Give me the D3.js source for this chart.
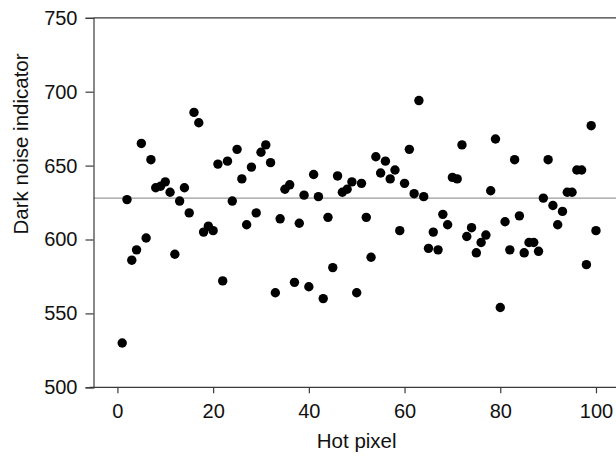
<!DOCTYPE html>
<html>
<head>
<meta charset="utf-8">
<script src="https://cdn.jsdelivr.net/npm/d3@7"></script>
<style>
  html, body { margin: 0; padding: 0; background: #fff; }
  svg { display: block; }
  text { font-family: "Liberation Sans", Arial, sans-serif; fill: #111; }
</style>
</head>
<body>
<script>
// ---- data ----
const hotPixel = d3.range(1, 101);
const darkNoise = [
  530, 627, 586, 593, 665, 601, 654, 635, 636, 639,
  632, 590, 626, 635, 618, 686, 679, 605, 609, 606,
  651, 572, 653, 626, 661, 641, 610, 649, 618, 659,
  664, 652, 564, 614, 634, 637, 571, 611, 630, 568,
  644, 629, 560, 615, 581, 643, 632, 634, 639, 564,
  638, 615, 588, 656, 645, 653, 641, 647, 606, 638,
  661, 631, 694, 629, 594, 605, 593, 617, 610, 642,
  641, 664, 602, 608, 591, 598, 603, 633, 668, 554,
  612, 593, 654, 616, 591, 598, 598, 592, 628, 654,
  623, 610, 619, 632, 632, 647, 647, 583, 677, 606
];
const referenceLevel = [628];
const xTicks = [0, 20, 40, 60, 80, 100];
const yTicks = [500, 550, 600, 650, 700, 750];
const xDomain = [-5, 105];
const yDomain = [500, 750];

const W = 616, H = 464;
const svg = d3.select("body").append("svg").attr("width", W).attr("height", H);

const x = d3.scaleLinear().domain(xDomain).range([93.5, 619.9]);
const y = d3.scaleLinear().domain(yDomain).range([387.3, 17.8]);

const axisColor = "#3a3a3a";

// top border
svg.append("line")
  .attr("x1", x(xDomain[0])).attr("x2", x(xDomain[1]))
  .attr("y1", y(yDomain[1])).attr("y2", y(yDomain[1]))
  .attr("stroke", axisColor).attr("stroke-width", 1.2);

// reference line
svg.selectAll("line.ref").data(referenceLevel).enter().append("line")
  .attr("class", "ref")
  .attr("x1", x(xDomain[0])).attr("x2", x(xDomain[1]))
  .attr("y1", d => y(d)).attr("y2", d => y(d))
  .attr("stroke", "#9a9a9a").attr("stroke-width", 1.4);

// x axis
const gx = svg.append("g").attr("transform", `translate(0,${y(yDomain[0])})`)
  .call(d3.axisBottom(x).tickValues(xTicks).tickSize(6).tickPadding(11).tickFormat(d3.format("d")));
// y axis
const gy = svg.append("g").attr("transform", `translate(${x(xDomain[0])},0)`)
  .call(d3.axisLeft(y).tickValues(yTicks).tickSize(8).tickPadding(8).tickFormat(d3.format("d")));

[gx, gy].forEach(g => {
  g.select(".domain").attr("stroke", axisColor).attr("stroke-width", 1.2);
  g.selectAll(".tick line").attr("stroke", axisColor).attr("stroke-width", 1.2);
  g.selectAll(".tick text").style("font-family", '"Liberation Sans", Arial, sans-serif')
    .style("font-size", "20px").attr("fill", "#111");
});
gx.select(".domain").attr("d", `M${x(xDomain[0]) - 4},0H${x(xDomain[1])}`);

// points
svg.append("g").selectAll("circle").data(hotPixel).enter().append("circle")
  .attr("cx", (d) => x(d))
  .attr("cy", (d, i) => y(darkNoise[i]))
  .attr("r", 4.7)
  .attr("fill", "#000");

// axis titles
svg.append("text")
  .attr("x", x(50)).attr("y", 448)
  .attr("text-anchor", "middle")
  .style("font-size", "20.5px")
  .text("Hot pixel");

svg.append("text")
  .attr("transform", `translate(28,144) rotate(-90)`)
  .attr("text-anchor", "middle")
  .style("font-size", "20.5px")
  .text("Dark noise indicator");
</script>
</body>
</html>
